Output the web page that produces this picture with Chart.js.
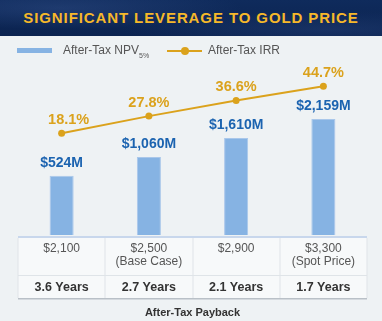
<!DOCTYPE html>
<html lang="en">
<head>
    <meta charset="UTF-8">
    <title>Significant Leverage to Gold Price</title>
    <script src="https://cdn.jsdelivr.net/npm/chart.js"></script>
    <style>
        body {
            margin: 0;
            padding: 0;
            background-color: #eef2f4;
            font-family: "Liberation Sans", Arial, sans-serif;
            width: 382px;
            height: 321px;
            overflow: hidden;
            position: relative;
        }
        /* Header band */
        .header {
            position: absolute;
            left: 0;
            top: 0;
            width: 382px;
            height: 36px;
            z-index: 2;
            background: radial-gradient(ellipse 260px 30px at 60px 8px, rgba(60, 90, 150, 0.35), rgba(0, 0, 0, 0) 70%),
                        radial-gradient(ellipse 300px 26px at 330px 30px, rgba(50, 80, 140, 0.3), rgba(0, 0, 0, 0) 70%),
                        linear-gradient(180deg, #0f2b5c, #0b2350);
            color: #f6b82a;
            font-weight: bold;
            font-size: 15px;
            letter-spacing: 0.9px;
            text-align: center;
            line-height: 35px;
        }
        /* Legend */
        .legend {
            position: absolute;
            left: 0;
            top: 42px;
            width: 382px;
            height: 18px;
            z-index: 2;
            font-size: 12px;
            color: #555;
        }
        .legend .bar-key {
            position: absolute;
            left: 17px;
            top: 6px;
            width: 35px;
            height: 5px;
            background-color: #86b3e3;
        }
        .legend .line-key {
            position: absolute;
            left: 167px;
            top: 8px;
            width: 35px;
            height: 2px;
            background-color: #dba21c;
        }
        .legend .line-key::after {
            content: "";
            position: absolute;
            left: 14px;
            top: -3px;
            width: 8px;
            height: 8px;
            border-radius: 50%;
            background-color: #dba21c;
        }
        .legend span.txt {
            position: absolute;
            top: 1px;
            white-space: nowrap;
        }
        .legend sub {
            font-size: 7px;
            vertical-align: -4px;
        }
        #chartCanvas {
            position: absolute;
            left: 0;
            top: 0;
        }
    </style>
</head>
<body>

    <div class="header">SIGNIFICANT LEVERAGE TO GOLD PRICE</div>

    <div class="legend">
        <div class="bar-key"></div>
        <span class="txt" style="left:63px">After-Tax NPV<sub>5%</sub></span>
        <div class="line-key"></div>
        <span class="txt" style="left:208px">After-Tax IRR</span>
    </div>

    <canvas id="chartCanvas" width="382" height="321"></canvas>

    <script>
        // Gold price cases (x categories)
        const goldPrices = ["$2,100", "$2,500", "$2,900", "$3,300"];
        const caseNotes = ["", "(Base Case)", "", "(Spot Price)"];
        // After-tax NPV 5% in $M
        const npvValues = [524, 1060, 1610, 2159];
        const npvLabels = ["$524M", "$1,060M", "$1,610M", "$2,159M"];
        // After-tax IRR in %
        const irrValues = [18.1, 27.8, 36.6, 44.7];
        // After-tax payback
        const paybackLabels = ["3.6 Years", "2.7 Years", "2.1 Years", "1.7 Years"];

        const FONT = '"Liberation Sans", Arial, sans-serif';
        // the bars in the source do not start at zero
        const NPV_MIN = -1186, NPV_MAX = 3572;

        // Table under the bars + payback caption
        const tablePlugin = {
            id: 'tablePlugin',
            beforeDraw(chart) {
                const ctx = chart.ctx;
                const area = chart.chartArea;
                const x = chart.scales.x;
                const top = area.bottom + 1;
                const mid = 275;
                const bottom = 298;
                const colW = (area.right - area.left) / goldPrices.length;

                ctx.save();
                ctx.fillStyle = '#f7f9fa';
                ctx.fillRect(area.left, top, area.right - area.left, bottom - top);

                // top border
                ctx.fillStyle = '#c8d7ec';
                ctx.fillRect(area.left, top, area.right - area.left, 2);
                // bottom border
                ctx.fillStyle = '#b9c0c7';
                ctx.fillRect(area.left, bottom, area.right - area.left, 1.5);
                // row separator
                ctx.fillStyle = '#dfe4e8';
                ctx.fillRect(area.left, mid, area.right - area.left, 1);
                // vertical lines
                for (let i = 0; i <= goldPrices.length; i++) {
                    const lx = Math.round(area.left + i * colW);
                    ctx.fillRect(lx - 0.5, top + 2, 1, bottom - top - 2);
                }

                ctx.textAlign = 'center';
                ctx.textBaseline = 'middle';
                goldPrices.forEach((p, i) => {
                    const cx = x.getPixelForValue(i);
                    ctx.font = '12px ' + FONT;
                    ctx.fillStyle = '#555';
                    ctx.fillText(p, cx, 249);
                    if (caseNotes[i]) ctx.fillText(caseNotes[i], cx, 262);
                    ctx.font = 'bold 12.5px ' + FONT;
                    ctx.fillStyle = '#333';
                    ctx.fillText(paybackLabels[i], cx, 287.5);
                });

                ctx.font = 'bold 11px ' + FONT;
                ctx.fillStyle = '#333';
                ctx.fillText('After-Tax Payback', (area.left + area.right) / 2, 313);
                ctx.restore();
            }
        };

        // Value labels above bars and points
        const valueLabels = {
            id: 'valueLabels',
            afterDatasetsDraw(chart) {
                const ctx = chart.ctx;
                ctx.save();
                ctx.textAlign = 'center';
                ctx.textBaseline = 'middle';

                ctx.font = 'bold 14px ' + FONT;
                ctx.fillStyle = '#1b63b0';
                chart.getDatasetMeta(0).data.forEach((bar, i) => {
                    ctx.fillText(npvLabels[i], bar.x, bar.y - 13);
                });

                ctx.font = 'bold 14.5px ' + FONT;
                ctx.fillStyle = '#dba21c';
                chart.getDatasetMeta(1).data.forEach((pt, i) => {
                    const shift = i === 0 ? 7 : 0;
                    ctx.fillText(irrValues[i].toFixed(1) + '%', pt.x + shift, pt.y - 13.5);
                });
                ctx.restore();
            }
        };

        const ctx = document.getElementById('chartCanvas').getContext('2d');
        const leverageChart = new Chart(ctx, {
            type: 'bar',
            data: {
                labels: goldPrices,
                datasets: [{
                    label: 'After-Tax NPV 5%',
                    data: npvValues,
                    yAxisID: 'y',
                    base: NPV_MIN,
                    backgroundColor: '#86b3e3',
                    borderColor: '#a9c7ea',
                    borderWidth: 1,
                    barPercentage: 0.276,
                    categoryPercentage: 1,
                    order: 1
                }, {
                    type: 'line',
                    label: 'After-Tax IRR',
                    data: irrValues,
                    yAxisID: 'y1',
                    borderColor: '#dba21c',
                    backgroundColor: '#dba21c',
                    borderWidth: 2,
                    pointRadius: 3.5,
                    pointBackgroundColor: '#dba21c',
                    pointBorderWidth: 0,
                    tension: 0,
                    order: 0
                }]
            },
            options: {
                responsive: false,
                animation: false,
                layout: {
                    padding: { left: 18, right: 15, top: 70, bottom: 86 }
                },
                scales: {
                    x: { display: false, offset: true },
                    y: { display: false, min: NPV_MIN, max: NPV_MAX },
                    y1: { display: false, min: -39.5, max: 53.9 }
                },
                plugins: {
                    legend: { display: false },
                    tooltip: { enabled: false }
                }
            },
            plugins: [tablePlugin, valueLabels]
        });
    </script>

</body>
</html>
